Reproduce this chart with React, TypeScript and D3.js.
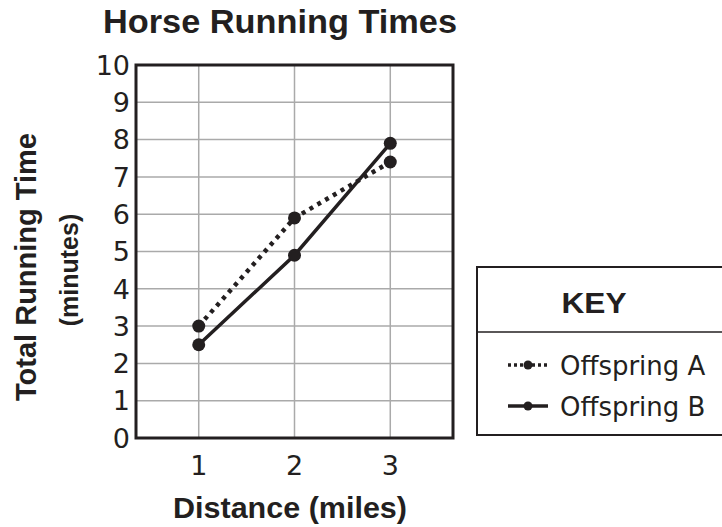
import React, { useEffect, useRef } from 'react';
import * as d3 from 'd3';

const distances = [1, 2, 3];
const offspringA = [3.0, 5.9, 7.4];
const offspringB = [2.5, 4.9, 7.9];
const yTickValues = [0, 1, 2, 3, 4, 5, 6, 7, 8, 9, 10];
const seriesNames = ['Offspring A', 'Offspring B'];

const FONT = '"DejaVu Sans", sans-serif';
const BOLD = '"Liberation Sans", Arial, sans-serif';
const INK = '#231f20';

export default function App() {
  const ref = useRef<SVGSVGElement>(null);

  useEffect(() => {
    const svg = d3.select(ref.current);
    svg.selectAll('*').remove();

    const left = 136, right = 453, top = 65, bottom = 438;
    const x = d3.scaleLinear().domain([0.345, 3.655]).range([left, right]);
    const y = d3.scaleLinear().domain([0, 10]).range([bottom, top]);

    // title
    svg.append('text')
      .attr('x', 280).attr('y', 33)
      .attr('text-anchor', 'middle')
      .attr('font-family', BOLD).attr('font-weight', 'bold').attr('font-size', 33)
      .attr('textLength', 354).attr('lengthAdjust', 'spacingAndGlyphs')
      .attr('fill', INK)
      .text('Horse Running Times');

    // grid
    svg.append('g').selectAll('line')
      .data(yTickValues.filter(d => d > 0 && d < 10))
      .join('line')
      .attr('x1', left).attr('x2', right)
      .attr('y1', d => y(d)).attr('y2', d => y(d))
      .attr('stroke', '#aaa').attr('stroke-width', 1.5);

    svg.append('g').selectAll('line')
      .data(distances)
      .join('line')
      .attr('x1', d => x(d)).attr('x2', d => x(d))
      .attr('y1', top).attr('y2', bottom)
      .attr('stroke', '#aaa').attr('stroke-width', 1.5);

    // frame
    svg.append('rect')
      .attr('x', left).attr('y', top)
      .attr('width', right - left).attr('height', bottom - top)
      .attr('fill', 'none').attr('stroke', INK).attr('stroke-width', 3);

    // y tick labels
    svg.append('g').selectAll('text')
      .data(yTickValues)
      .join('text')
      .attr('x', left - 6).attr('y', d => y(d))
      .attr('dy', '0.36em')
      .attr('text-anchor', 'end')
      .attr('font-family', FONT).attr('font-size', 27)
      .attr('fill', INK)
      .text(d => d);

    // x tick labels
    svg.append('g').selectAll('text')
      .data(distances)
      .join('text')
      .attr('x', d => x(d)).attr('y', 475)
      .attr('text-anchor', 'middle')
      .attr('font-family', FONT).attr('font-size', 27)
      .attr('fill', INK)
      .text(d => d);

    // axis titles
    svg.append('text')
      .attr('x', 290).attr('y', 518)
      .attr('text-anchor', 'middle')
      .attr('font-family', BOLD).attr('font-weight', 'bold').attr('font-size', 29)
      .attr('textLength', 234).attr('lengthAdjust', 'spacingAndGlyphs')
      .attr('fill', INK)
      .text('Distance (miles)');

    const yt = svg.append('g').attr('transform', 'translate(0,267) rotate(-90)');
    yt.append('text')
      .attr('x', 0).attr('y', 36)
      .attr('text-anchor', 'middle')
      .attr('font-family', BOLD).attr('font-weight', 'bold').attr('font-size', 29)
      .attr('fill', INK)
      .text('Total Running Time');
    yt.append('text')
      .attr('x', -3).attr('y', 78)
      .attr('text-anchor', 'middle')
      .attr('font-family', BOLD).attr('font-weight', 'bold').attr('font-size', 25)
      .attr('fill', INK)
      .text('(minutes)');

    // lines
    const line = d3.line<number>()
      .x((d, i) => x(distances[i]))
      .y(d => y(d));

    svg.append('path')
      .attr('d', line(offspringA))
      .attr('fill', 'none').attr('stroke', INK)
      .attr('stroke-width', 4.5).attr('stroke-dasharray', '4,5');

    svg.append('path')
      .attr('d', line(offspringB))
      .attr('fill', 'none').attr('stroke', INK)
      .attr('stroke-width', 3.5);

    [offspringA, offspringB].forEach(series => {
      svg.append('g').selectAll('circle')
        .data(series)
        .join('circle')
        .attr('cx', (d, i) => x(distances[i]))
        .attr('cy', d => y(d))
        .attr('r', 6.5)
        .attr('fill', INK);
    });

    // key
    const key = svg.append('g');
    key.append('rect')
      .attr('x', 477).attr('y', 267)
      .attr('width', 260).attr('height', 168)
      .attr('fill', '#fff').attr('stroke', INK).attr('stroke-width', 2);
    key.append('line')
      .attr('x1', 477).attr('x2', 737)
      .attr('y1', 332).attr('y2', 332)
      .attr('stroke', INK).attr('stroke-width', 1.5);
    key.append('text')
      .attr('x', 594).attr('y', 313)
      .attr('text-anchor', 'middle')
      .attr('font-family', BOLD).attr('font-weight', 'bold').attr('font-size', 30)
      .attr('textLength', 65).attr('lengthAdjust', 'spacingAndGlyphs')
      .attr('fill', INK)
      .text('KEY');

    const rows = [
      { name: seriesNames[0], dash: '3,3', width: 3.5, y: 365 },
      { name: seriesNames[1], dash: null, width: 3.5, y: 406 },
    ];
    rows.forEach(r => {
      key.append('line')
        .attr('x1', 508).attr('x2', 548)
        .attr('y1', r.y).attr('y2', r.y)
        .attr('stroke', INK).attr('stroke-width', r.width)
        .attr('stroke-dasharray', r.dash);
      key.append('circle')
        .attr('cx', 528).attr('cy', r.y).attr('r', 4.5)
        .attr('fill', INK);
      key.append('text')
        .attr('x', 560).attr('y', r.y + 10)
        .attr('font-family', FONT).attr('font-size', 26)
        .attr('fill', INK)
        .text(r.name);
    });
  }, []);

  return (
    <svg
      ref={ref}
      width={722}
      height={527}
      style={{ position: 'absolute', left: 0, top: 0, background: '#fff' }}
    />
  );
}
